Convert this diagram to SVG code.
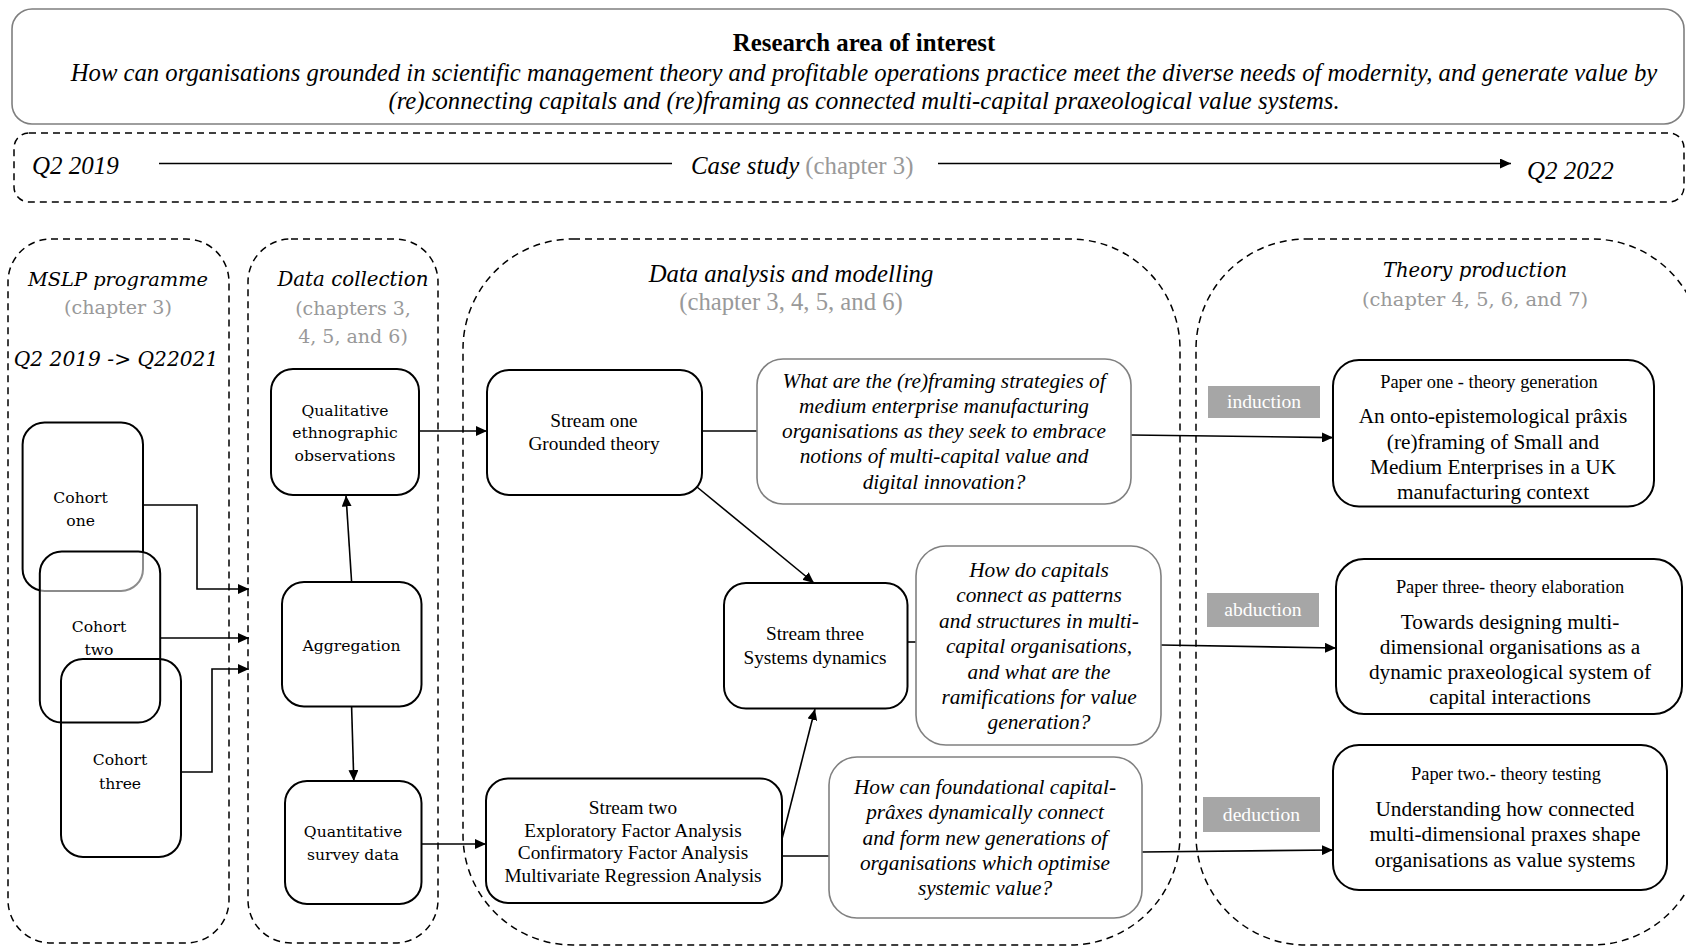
<svg xmlns="http://www.w3.org/2000/svg" width="1686" height="946" viewBox="0 0 1686 946">
  <defs>
    <marker id="arrow" markerUnits="userSpaceOnUse" markerWidth="12" markerHeight="10" refX="11" refY="5" orient="auto">
      <path d="M0,0 L11,5 L0,10 Z" fill="#000"/>
    </marker>
    <style>
      .tnr { font-family: "Liberation Serif", "Times New Roman", serif; }
      .cent { font-family: "DejaVu Serif", "Liberation Serif", serif; }
      .it { font-style: italic; }
      .mid { text-anchor: middle; }
      .grey { fill: #999999; }
      .container { fill: none; stroke: #000; stroke-width: 1.5; stroke-dasharray: 7 5; }
      .node { fill: #fff; stroke: #000; stroke-width: 2; }
      .question { fill: #fff; stroke: #808080; stroke-width: 1.6; }
      .conn { fill: none; stroke: #000; stroke-width: 1.6; }
      .tag { fill: #a6a6a6; }
      .tagtext { fill: #fff; font-family: "Liberation Serif", "Times New Roman", serif; font-size: 19.6px; text-anchor: middle; }
      .stream { font-size: 19.3px; }
      .q { font-size: 21.3px; }
      .phead { font-size: 18.4px; }
      .pbody { font-size: 21.3px; }
      .small { font-size: 15.6px; }
    </style>
  </defs>
  <rect width="1686" height="946" fill="#fff"/>

  <!-- research area banner -->
  <g id="research-area">
    <rect x="12" y="9" width="1672" height="115" rx="20" fill="#fff" stroke="#7f7f7f" stroke-width="1.6"/>
    <text class="tnr mid" x="864" y="51" font-size="24.8" font-weight="bold">Research area of interest</text>
    <text class="tnr it mid" x="864" y="81" font-size="24.7">How can organisations grounded in scientific management theory and profitable operations practice meet the diverse needs of modernity, and generate value by</text>
    <text class="tnr it mid" x="864" y="109" font-size="24.7">(re)connecting capitals and (re)framing as connected multi-capital praxeological value systems.</text>
  </g>

  <!-- case study timeline -->
  <g id="timeline">
    <rect class="container" x="14" y="133" width="1670" height="69" rx="15"/>
    <text class="tnr it" x="32" y="174" font-size="25">Q2 2019</text>
    <path class="conn" d="M159,163.5 H672"/>
    <text class="tnr" x="691" y="174" font-size="24.8"><tspan class="it">Case study</tspan><tspan class="grey"> (chapter 3)</tspan></text>
    <path class="conn" d="M938,163.5 H1511" marker-end="url(#arrow)"/>
    <text class="tnr it" x="1527" y="179" font-size="25">Q2 2022</text>
  </g>

  <!-- phase containers -->
  <g id="mslp-programme">
    <rect class="container" x="8" y="239" width="221" height="704" rx="43"/>
    <text class="cent it mid" x="118" y="286" font-size="19.4">MSLP programme</text>
    <text class="cent mid grey" x="118" y="314" font-size="19.1">(chapter 3)</text>
    <text class="cent it mid" x="116" y="366" font-size="20.2">Q2 2019 -&gt; Q22021</text>
  </g>
  <g id="data-collection">
    <rect class="container" x="248" y="239" width="190" height="704" rx="43"/>
    <text class="cent it mid" x="353" y="286" font-size="19.8">Data collection</text>
    <text class="cent mid grey" x="353" y="315" font-size="19">(chapters 3,</text>
    <text class="cent mid grey" x="353" y="343" font-size="19">4, 5, and 6)</text>
  </g>
  <g id="data-analysis">
    <rect class="container" x="463" y="239" width="717" height="706" rx="110"/>
    <text class="tnr it mid" x="791" y="282" font-size="24.7">Data analysis and modelling</text>
    <text class="tnr mid grey" x="791" y="310" font-size="24.7">(chapter 3, 4, 5, and 6)</text>
  </g>
  <g id="theory-production">
    <rect class="container" x="1196" y="239" width="506" height="706" rx="110"/>
    <text class="cent it mid" x="1475" y="277" font-size="19.6">Theory production</text>
    <text class="cent mid grey" x="1475" y="306" font-size="19.4">(chapter 4, 5, 6, and 7)</text>
  </g>

  <!-- connectors -->
  <g id="connectors">
    <path class="conn" d="M143,505 H197 V589 H249" marker-end="url(#arrow)"/>
    <path class="conn" d="M160,638 H249" marker-end="url(#arrow)"/>
    <path class="conn" d="M181,772 H212 V669 H249" marker-end="url(#arrow)"/>
    <path class="conn" d="M351.6,582 L346,495.5" marker-end="url(#arrow)"/>
    <path class="conn" d="M351.6,706.5 L353.8,781" marker-end="url(#arrow)"/>
    <path class="conn" d="M419,431 H487" marker-end="url(#arrow)"/>
    <path class="conn" d="M421.5,844 H486" marker-end="url(#arrow)"/>
    <path class="conn" d="M702,431 H757"/>
    <path class="conn" d="M1131,435 L1333,437.6" marker-end="url(#arrow)"/>
    <path class="conn" d="M697,487 L814,583" marker-end="url(#arrow)"/>
    <path class="conn" d="M782,839 L815,709" marker-end="url(#arrow)"/>
    <path class="conn" d="M782,856 H829"/>
    <path class="conn" d="M1142,852 L1333,850" marker-end="url(#arrow)"/>
    <path class="conn" d="M907.5,642 H916"/>
    <path class="conn" d="M1161,645 L1336,648" marker-end="url(#arrow)"/>
  </g>

  <!-- cohorts -->
  <g id="cohort-one">
    <rect x="22.6" y="422.6" width="120.4" height="168.4" rx="22" fill="none" stroke="#000" stroke-width="2"/>
    <text class="cent mid small" x="80.6" y="502.5">Cohort</text>
    <text class="cent mid small" x="80.6" y="525.5">one</text>
  </g>
  <g id="cohort-two">
    <rect x="39.8" y="551.6" width="120.4" height="171" rx="22" fill="#fff" fill-opacity="0.55" stroke="#000" stroke-width="2"/>
    <text class="cent mid small" x="99" y="631.5">Cohort</text>
    <text class="cent mid small" x="99" y="654.5">two</text>
  </g>
  <g id="cohort-three">
    <rect x="61" y="659" width="120" height="198" rx="22" fill="none" stroke="#000" stroke-width="2"/>
    <text class="cent mid small" x="120" y="764.5">Cohort</text>
    <text class="cent mid small" x="120" y="788.5">three</text>
  </g>

  <!-- data collection nodes -->
  <g id="qualitative">
    <rect class="node" x="271" y="369" width="148" height="126" rx="22"/>
    <text class="cent mid small" x="345" y="415.5">Qualitative</text>
    <text class="cent mid small" x="345" y="438">ethnographic</text>
    <text class="cent mid small" x="345" y="460.5">observations</text>
  </g>
  <g id="aggregation">
    <rect class="node" x="282" y="582" width="139.5" height="124.5" rx="22"/>
    <text class="cent mid small" x="351.5" y="650.5">Aggregation</text>
  </g>
  <g id="quantitative">
    <rect class="node" x="285" y="781" width="136.5" height="123" rx="22"/>
    <text class="cent mid small" x="353" y="836.5">Quantitative</text>
    <text class="cent mid small" x="353" y="859.5">survey data</text>
  </g>

  <!-- analysis streams -->
  <g id="stream-one">
    <rect class="node" x="487" y="370" width="215" height="125" rx="22"/>
    <text class="tnr mid stream" x="594" y="426.5">Stream one</text>
    <text class="tnr mid stream" x="594" y="449.5">Grounded theory</text>
  </g>
  <g id="stream-three">
    <rect class="node" x="724" y="583" width="183.5" height="125.6" rx="22"/>
    <text class="tnr mid stream" x="815" y="639.5">Stream three</text>
    <text class="tnr mid stream" x="815" y="663.5">Systems dynamics</text>
  </g>
  <g id="stream-two">
    <rect class="node" x="486" y="778.5" width="296" height="124.5" rx="22"/>
    <text class="tnr mid stream" x="633" y="814">Stream two</text>
    <text class="tnr mid stream" x="633" y="836.5">Exploratory Factor Analysis</text>
    <text class="tnr mid stream" x="633" y="859">Confirmatory Factor Analysis</text>
    <text class="tnr mid stream" x="633" y="881.5">Multivariate Regression Analysis</text>
  </g>

  <!-- research questions -->
  <g id="question-one">
    <rect class="question" x="757" y="359" width="374" height="145" rx="26"/>
    <text class="tnr it mid q" x="944" y="387.5">What are the (re)framing strategies of</text>
    <text class="tnr it mid q" x="944" y="412.8">medium enterprise manufacturing</text>
    <text class="tnr it mid q" x="944" y="438.1">organisations as they seek to embrace</text>
    <text class="tnr it mid q" x="944" y="463.4">notions of multi-capital value and</text>
    <text class="tnr it mid q" x="944" y="488.7">digital innovation?</text>
  </g>
  <g id="question-two">
    <rect class="question" x="916" y="546" width="245" height="199" rx="30"/>
    <text class="tnr it mid q" x="1039" y="577">How do capitals</text>
    <text class="tnr it mid q" x="1039" y="602.4">connect as patterns</text>
    <text class="tnr it mid q" x="1039" y="627.8">and structures in multi-</text>
    <text class="tnr it mid q" x="1039" y="653.2">capital organisations,</text>
    <text class="tnr it mid q" x="1039" y="678.6">and what are the</text>
    <text class="tnr it mid q" x="1039" y="704">ramifications for value</text>
    <text class="tnr it mid q" x="1039" y="729.4">generation?</text>
  </g>
  <g id="question-three">
    <rect class="question" x="829" y="757" width="313" height="161" rx="28"/>
    <text class="tnr it mid q" x="985" y="794">How can foundational capital-</text>
    <text class="tnr it mid q" x="985" y="819.3">prâxes dynamically connect</text>
    <text class="tnr it mid q" x="985" y="844.6">and form new generations of</text>
    <text class="tnr it mid q" x="985" y="869.9">organisations which optimise</text>
    <text class="tnr it mid q" x="985" y="895.2">systemic value?</text>
  </g>

  <!-- reasoning tags -->
  <g id="tag-induction">
    <rect class="tag" x="1208" y="386" width="112" height="32"/>
    <text class="tagtext" x="1264" y="408">induction</text>
  </g>
  <g id="tag-abduction">
    <rect class="tag" x="1207" y="593" width="112" height="34"/>
    <text class="tagtext" x="1263" y="616">abduction</text>
  </g>
  <g id="tag-deduction">
    <rect class="tag" x="1203" y="797" width="117" height="35"/>
    <text class="tagtext" x="1261.5" y="821">deduction</text>
  </g>

  <!-- papers -->
  <g id="paper-one">
    <rect class="node" x="1333" y="360" width="321" height="146.5" rx="26"/>
    <text class="tnr mid phead" x="1489" y="388">Paper one - theory generation</text>
    <text class="tnr mid pbody" x="1493" y="423">An onto-epistemological prâxis</text>
    <text class="tnr mid pbody" x="1493" y="448.5">(re)framing of Small and</text>
    <text class="tnr mid pbody" x="1493" y="474">Medium Enterprises in a UK</text>
    <text class="tnr mid pbody" x="1493" y="499">manufacturing context</text>
  </g>
  <g id="paper-three">
    <rect class="node" x="1336" y="559" width="346" height="155" rx="28"/>
    <text class="tnr mid phead" x="1510" y="593">Paper three- theory elaboration</text>
    <text class="tnr mid pbody" x="1510" y="628.5">Towards designing multi-</text>
    <text class="tnr mid pbody" x="1510" y="653.5">dimensional organisations as a</text>
    <text class="tnr mid pbody" x="1510" y="679">dynamic praxeological system of</text>
    <text class="tnr mid pbody" x="1510" y="704">capital interactions</text>
  </g>
  <g id="paper-two">
    <rect class="node" x="1333" y="745" width="334" height="145" rx="26"/>
    <text class="tnr mid phead" x="1506" y="780">Paper two.- theory testing</text>
    <text class="tnr mid pbody" x="1505" y="815.6">Understanding how connected</text>
    <text class="tnr mid pbody" x="1505" y="841.4">multi-dimensional praxes shape</text>
    <text class="tnr mid pbody" x="1505" y="867">organisations as value systems</text>
  </g>
</svg>
